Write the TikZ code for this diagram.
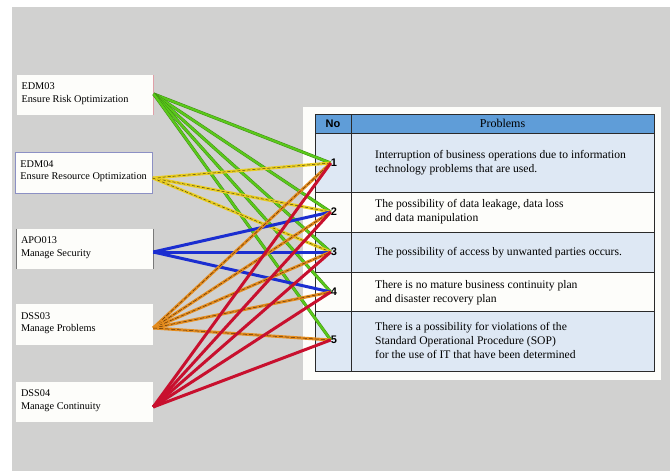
\documentclass[tikz,border=0pt]{standalone}
\usepackage{fontspec}
\setmainfont{Liberation Serif}
\newfontfamily\tabsf{Liberation Sans}
\usetikzlibrary{positioning,calc}
\definecolor{bgGrey}{HTML}{D1D1D0}
\definecolor{panelW}{HTML}{FDFDFA}
\definecolor{hdBlue}{HTML}{5F9DD8}
\definecolor{rowBlue}{HTML}{DEE8F4}
\definecolor{gridC}{HTML}{2A2A2A}
\definecolor{boxBlue}{HTML}{8C90C4}
\definecolor{boxPink}{HTML}{E0A0A8}
\definecolor{boxGrey}{HTML}{7A7A7A}
\definecolor{grnC}{HTML}{5AC81A}
\definecolor{grnD}{HTML}{3C8A12}
\definecolor{ylwC}{HTML}{E9CD20}
\definecolor{ylwD}{HTML}{4E4212}
\definecolor{bluC}{HTML}{1B2ED0}
\definecolor{orgC}{HTML}{E48C1E}
\definecolor{orgD}{HTML}{5E3408}
\definecolor{redC}{HTML}{C8102E}
\tikzset{
  proc/.style={fill=panelW,minimum width=137pt,minimum height=40pt,inner sep=0pt},
  proctxt/.style={font=\fontsize{10.3}{12.5}\selectfont,align=left,anchor=west,inner sep=0pt},
  rowtxt/.style={font=\fontsize{11.6}{14}\selectfont,align=left,anchor=west,inner sep=0pt},
  headtxt/.style={font=\fontsize{12}{14}\selectfont,inner sep=0pt},
  numtxt/.style={font=\tabsf\bfseries\fontsize{11}{13}\selectfont,inner sep=0pt},
  lkG/.style={draw=grnD,double=grnC,double distance=2.2pt,line width=0.45pt},
  lkY/.style={draw=ylwC,line width=3pt,postaction={draw=ylwD,line width=0.5pt,dash pattern=on 3pt off 2pt}},
  lkB/.style={draw=bluC,line width=3pt},
  lkO/.style={draw=orgC,line width=3pt,postaction={draw=orgD,line width=0.5pt,dash pattern=on 4pt off 2pt}},
  lkR/.style={draw=redC,line width=3pt},
}

\begin{document}
\begin{tikzpicture}[x=1pt,y=-1pt]
\useasboundingbox (0,0) rectangle (670,471);
\fill[white] (0,0) rectangle (670,471);
\fill[bgGrey] (12,7) rectangle (670,471);

% ================= COBIT PROCESSES =================
\node[proc] (edm03) at (85,95) {};
\draw[boxPink,line width=0.6pt] (edm03.north east) -- (edm03.south east);
\node[proc,draw=boxBlue,line width=0.5pt,minimum height=41pt] (edm04) at (84,172.5) {};
\node[proc] (apo13) at (84.5,249) {};
\draw[boxGrey,line width=0.6pt] (apo13.north west) -- (apo13.south west) (apo13.north east) -- (apo13.south east);
\node[proc,minimum height=41pt] (dss03) at (84.5,324.5) {};
\node[proc] (dss04) at (84.5,402) {};

\node[proctxt] (t03) at ([xshift=5pt,yshift=1.5pt]edm03.west) {EDM03\\Ensure Risk Optimization};
\node[proctxt] (t04) at ([xshift=5pt,yshift=1.5pt]edm04.west) {EDM04\\Ensure Resource Optimization};
\node[proctxt] (t13) at ([xshift=5pt,yshift=1.5pt]apo13.west) {APO013\\Manage Security};
\node[proctxt] (tp3) at ([xshift=5pt,yshift=1.5pt]dss03.west) {DSS03\\Manage Problems};
\node[proctxt] (tp4) at ([xshift=5pt,yshift=1.5pt]dss04.west) {DSS04\\Manage Continuity};

\coordinate (oE3) at ([yshift=1pt]edm03.east);
\coordinate (oE4) at ([yshift=-5.5pt]edm04.east);
\coordinate (oA3) at ([yshift=-3pt]apo13.east);
\coordinate (oD3) at ([yshift=-3.5pt]dss03.east);
\coordinate (oD4) at ([yshift=-5pt]dss04.east);

% ================= PROBLEM TABLE =================
\fill[panelW] (303,107) rectangle (661,380);
\fill[hdBlue] (315,114) rectangle (654,133);
\fill[rowBlue] (315,133) rectangle (654,192);
\fill[rowBlue] (315,232) rectangle (654,272);
\fill[rowBlue] (315,311) rectangle (654,371);
\draw[gridC,line width=0.8pt] (315,114) rectangle (654,371);
\draw[gridC,line width=0.8pt] (351,114) -- (351,371);
\draw[gridC,line width=0.8pt] (315,133) -- (654,133) (315,192) -- (654,192)
  (315,232) -- (654,232) (315,272) -- (654,272) (315,311) -- (654,311);

\node[numtxt] (hNo) at (333,123.5) {No};
\node[headtxt] (hPr) at (502.5,123.5) {Problems};

\node[numtxt] (n1) at (334,163) {1};
\node[numtxt] (n2) at (334,212) {2};
\node[numtxt] (n3) at (334,252) {3};
\node[numtxt] (n4) at (334,292) {4};
\node[numtxt] (n5) at (334,340) {5};

\node[rowtxt] (p1) at (375,163) {Interruption of business operations due to information\\technology problems that are used.};
\node[rowtxt] (p2) at (375,212) {The possibility of data leakage, data loss\\and data manipulation};
\node[rowtxt] (p3) at (375,253) {The possibility of access by unwanted parties occurs.};
\node[rowtxt] (p4) at (375,293) {There is no mature business continuity plan\\and disaster recovery plan};
\node[rowtxt] (p5) at (375,340) {There is a possibility for violations of the\\Standard Operational Procedure (SOP)\\for the use of IT that have been determined};

% ================= MAPPING LINES =================
\draw[lkG] (oE3) -- (n1.west); \draw[lkG] (oE3) -- (n2.west); \draw[lkG] (oE3) -- (n3.west);
\draw[lkG] (oE3) -- (n4.west); \draw[lkG] (oE3) -- (n5.west);
\draw[lkY] (oE4) -- (n1.west); \draw[lkY] (oE4) -- (n2.west); \draw[lkY] (oE4) -- (n3.west);
\draw[lkB] (oA3) -- (n2.west); \draw[lkB] (oA3) -- (n3.west); \draw[lkB] (oA3) -- (n4.west);
\draw[lkO] (oD3) -- (n1.west); \draw[lkO] (oD3) -- (n2.west); \draw[lkO] (oD3) -- (n3.west);
\draw[lkO] (oD3) -- (n4.west); \draw[lkO] (oD3) -- (n5.west);
\draw[lkR] (oD4) -- (n1.west); \draw[lkR] (oD4) -- (n2.west); \draw[lkR] (oD4) -- (n3.west);
\draw[lkR] (oD4) -- (n4.west); \draw[lkR] (oD4) -- (n5.west);

\end{tikzpicture}
\end{document}
